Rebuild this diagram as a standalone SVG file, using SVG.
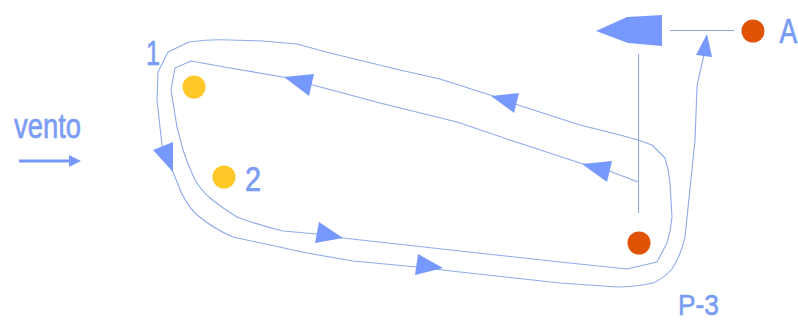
<svg xmlns="http://www.w3.org/2000/svg" width="798" height="322" viewBox="0 0 798 322">
<style>
.line{fill:none;stroke:#8faaeb;stroke-width:1.1;stroke-linejoin:round}
.head{fill:#7799ff;stroke:none}
.lbl{font-family:"Liberation Sans",Arial,sans-serif;font-size:35px;fill:#7b9cf5;stroke:#7b9cf5;stroke-width:.7}
.orange{fill:#e05205}
.yellow{fill:#fdc828}
</style>
<rect width="798" height="322" fill="#ffffff"/>
<g id="connectors">
<path id="top-line" class="line" d="M670 30.5H734"/>
<path id="outer-path" class="line" d="M704 55Q698 80 697 87L695 140L685 237Q681 255 672 269Q663 279 653 283Q635 287 617 287L560 283L460 272L417 267L353 261L307 253L233 237Q212 228 196 214Q184 202 177 182L173 172L162 145L157 100L158 72L168 52L189 42Q210 39 230 40L263 41L297 44L330 53L400 70L440 79L490 95L518 105L580 125L620 135L638 140L652 145L665 158Q669 170 670 183L672 217Q671 230 667 243L657 262L627 269L560 262L460 251L343 238L317 234L283 231Q258 225 237 217Q222 208 210 198Q201 190 195 180Q188 165 183 150L177 127L171 90L175 68L191 61L230 68L283 77L313 85L380 103L457 122L513 141L580 163L612 172L638 182"/>
<path id="mast" class="line" d="M638.5 54V213"/>
<path id="wind-line" d="M19 161H70" fill="none" stroke="#7799ff" stroke-width="3"/>
<polygon class="head" points="69,155 81,161 69,167"/>
<polygon class="head" points="596,31 627,17 662,15 662,46 628,43"/>
<polygon class="head" points="707,34 696,55 712,57"/>
<polygon class="head" points="284,77 314,74 309,96"/>
<polygon class="head" points="491,96 519,93 514,113"/>
<polygon class="head" points="582,164 612,161 607,182"/>
<polygon class="head" points="153,150 173,142 173,172"/>
<polygon class="head" points="343,238 319,222 315,243"/>
<polygon class="head" points="443,268 418,254 415,275"/>
</g>
<g id="node-A"><circle class="orange" cx="753" cy="31" r="11.5"/><text class="lbl" transform="translate(779.5 43) scale(.76 1)">A</text></g>
<g id="node-P3"><circle class="orange" cx="639" cy="243" r="11.5"/><text class="lbl" transform="translate(678 315) scale(.75 .86)">P-3</text></g>
<g id="node-1"><circle class="yellow" cx="194" cy="87" r="11.5"/><text class="lbl" x="146" y="65" textLength="14" lengthAdjust="spacingAndGlyphs">1</text></g>
<g id="node-2"><circle class="yellow" cx="224" cy="177" r="11.5"/><text class="lbl" x="245" y="191" textLength="16" lengthAdjust="spacingAndGlyphs">2</text></g>
<g id="wind"><text class="lbl" x="14" y="138" textLength="67" lengthAdjust="spacingAndGlyphs">vento</text></g>
</svg>
